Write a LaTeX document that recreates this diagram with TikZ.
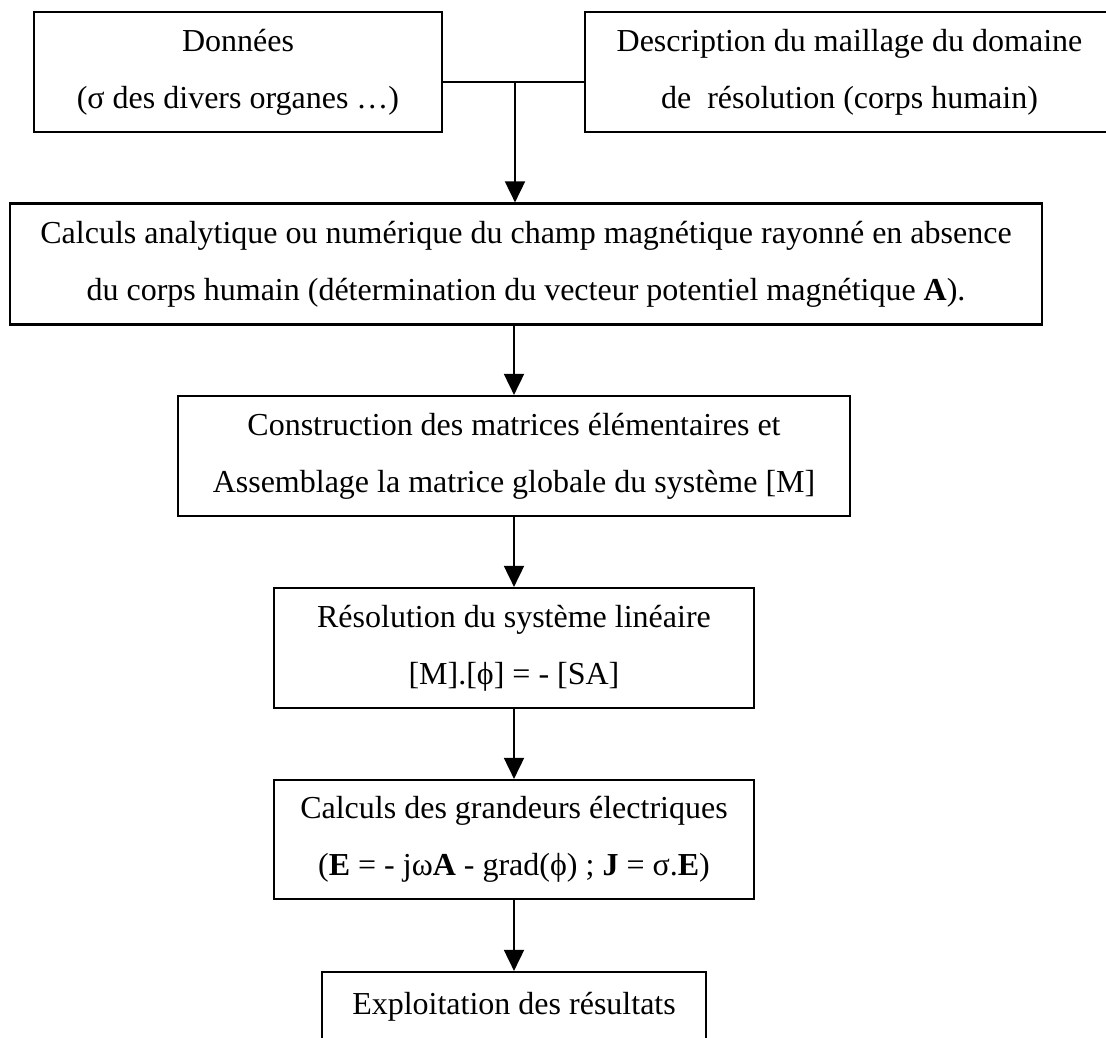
\documentclass[tikz,border=0pt]{standalone}
\usepackage{fontspec}
\setmainfont{Liberation Serif}
\usetikzlibrary{arrows.meta}
\begin{document}
\begin{tikzpicture}[x=1pt,y=-1pt,
  box/.style={draw, line width=2.2pt, align=center, inner sep=0pt,
    font=\fontsize{32}{57}\selectfont},
  conn/.style={line width=1.8pt},
  arr/.style={line width=1.8pt, -{Triangle[length=21pt,width=20pt]}}]
\useasboundingbox (0,0) rectangle (1106,1037);
\clip (0,0) rectangle (1106,1037);
\fill[white] (0,0) rectangle (1106,1037);
\node[box, minimum width=408pt, minimum height=120pt] (b1) at (238,72)
  {Données\\(σ des divers organes …)};
\node[box, minimum width=529pt, minimum height=120pt] (b2) at (849.5,72)
  {Description du maillage du domaine\\de\ \ résolution (corps humain)};
\node[box, minimum width=1032pt, minimum height=121pt] (b3) at (526,264)
  {Calculs analytique ou numérique du champ magnétique rayonné en absence\\du corps humain (détermination du vecteur potentiel magnétique \textbf{A}).};
\node[box, minimum width=672pt, minimum height=120pt] (b4) at (514,456)
  {Construction des matrices élémentaires et\\Assemblage la matrice globale du système [M]};
\node[box, minimum width=480pt, minimum height=120pt] (b5) at (514,648)
  {Résolution du système linéaire\\{}[M].[ϕ] = - [SA]};
\node[box, minimum width=480pt, minimum height=119pt] (b6) at (514,839.5)
  {Calculs des grandeurs électriques\\(\textbf{E} = - jω\textbf{A} - grad(ϕ) ; \textbf{J} = σ.\textbf{E})};
\node[box, minimum width=384pt, minimum height=120pt] (b7) at (514,1032)
  {Exploitation des résultats\\\mbox{}};
\coordinate (j) at (515,82);
\draw[conn] (b1.east |- j) -- (b2.west |- j);
\draw[arr] (j) -- (b3.north -| j);
\draw[arr] (b3.south -| b4.north) -- (b4.north);
\draw[arr] (b4.south) -- (b5.north);
\draw[arr] (b5.south) -- (b6.north);
\draw[arr] (b6.south) -- (b7.north);
\end{tikzpicture}
\end{document}
